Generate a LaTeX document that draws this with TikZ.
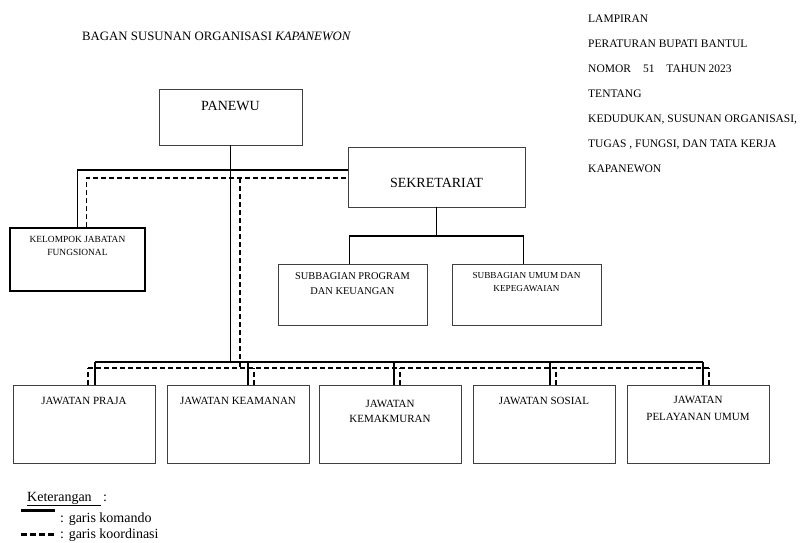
\documentclass[tikz,border=0pt]{standalone}
\usepackage{fontspec}
\setmainfont{Liberation Serif}
\usetikzlibrary{positioning}

\newcommand{\ukuran}[2]{\fontsize{#1}{#2}\selectfont}

\begin{document}
\begin{tikzpicture}[x=1pt, y=-1pt,
    box/.style={draw=black!75, line width=0.9pt, inner sep=0pt},
    teks/.style={inner sep=0pt, align=center},
    judul/.style={inner sep=0pt, anchor=base west, font=\ukuran{11.5}{14}},
    komando/.style={line width=1.8pt},
    koordinasi/.style={line width=1.6pt, dash pattern=on 5pt off 3pt}]
\useasboundingbox (0,0) rectangle (801,542);

\node[judul, font=\ukuran{12.8}{15}] (judul) at (82,40) {BAGAN SUSUNAN ORGANISASI \textit{KAPANEWON}};
\foreach \t [count=\i] in {LAMPIRAN, PERATURAN BUPATI BANTUL, NOMOR\hspace{12pt}51\hspace{12pt}TAHUN 2023, TENTANG,
    {KEDUDUKAN, SUSUNAN ORGANISASI,}, {TUGAS , FUNGSI, DAN TATA KERJA}, KAPANEWON}
    \node[judul] (lampiran\i) at (588, {22+25*(\i-1)}) {\t};

\node[box, minimum width=143, minimum height=56] (panewu) at (230.5,117) {};
\node[box, minimum width=177, minimum height=60] (sekretariat) at (436.5,177) {};
\node[box, draw=black, line width=1.8pt, minimum width=135, minimum height=63] (kjf) at (77.5,259.5) {};
\node[box, minimum width=149, minimum height=61] (spk) at (352.5,294.5) {};
\node[box, minimum width=149, minimum height=61] (suk) at (526.5,294.5) {};
\foreach \n/\x in {jp/84, jk/238, jkm/390, js/544, jpu/698}
    \node[box, minimum width=142, minimum height=78] (\n) at (\x,424) {};

\node[teks, font=\ukuran{14}{16}, below=13pt of panewu.north] (tpanewu) {PANEWU};
\node[teks, font=\ukuran{14}{16}, below=31pt of sekretariat.north] (tsekretariat) {SEKRETARIAT};
\node[teks, font=\ukuran{9.4}{13}, below=9pt of kjf.north] (tkjf) {KELOMPOK JABATAN\\FUNGSIONAL};
\node[teks, font=\ukuran{10.4}{15}, below=9pt of spk.north] (tspk) {SUBBAGIAN PROGRAM\\DAN KEUANGAN};
\node[teks, font=\ukuran{9.2}{13}, below=9pt of suk.north] (tsuk) {SUBBAGIAN UMUM DAN\\KEPEGAWAIAN};
\node[teks, font=\ukuran{11}{16}, below=12pt of jp.north] (tjp) {JAWATAN PRAJA};
\node[teks, font=\ukuran{11}{16}, below=12pt of jk.north] (tjk) {JAWATAN KEAMANAN};
\node[teks, font=\ukuran{11}{15}, below=15pt of jkm.north] (tjkm) {JAWATAN\\KEMAKMURAN};
\node[teks, font=\ukuran{11}{16}, below=12pt of js.north] (tjs) {JAWATAN SOSIAL};
\node[teks, font=\ukuran{11}{17}, below=11pt of jpu.north] (tjpu) {JAWATAN\\PELAYANAN UMUM};

\coordinate (kom) at (0,170);
\coordinate (kor) at (0,178);
\coordinate (sub) at (0,236);
\coordinate (bus) at (0,362);
\coordinate (bus2) at (0,368);

\draw[komando] (panewu.south) -- (panewu.south |- bus);
\draw[komando] (kjf.north) |- (sekretariat.west |- kom);
\draw[koordinasi] ([xshift=9pt]kjf.north) |- (sekretariat.west |- kor);
\draw[koordinasi] ([xshift=9.5pt]panewu.south |- kor) -- ([xshift=9.5pt]panewu.south |- bus2);

\draw[komando] (sekretariat.south) -- (sekretariat.south |- sub);
\draw[komando] ([xshift=-3pt]spk.north) |- ([xshift=-3pt]suk.north |- sub) -- ([xshift=-3pt]suk.north);

\draw[komando] ([xshift=11pt]jp.north |- bus) -- ([xshift=5pt]jpu.north |- bus);
\draw[koordinasi] ([xshift=4pt]jp.north |- bus2) -- ([xshift=11pt]jpu.north |- bus2);
\foreach \n/\a/\b in {jp/11/4, jk/10/16, jkm/4/10, js/6/12, jpu/5/11} {
    \draw[komando] ([xshift=\a pt]\n.north) -- ([xshift=\a pt]\n.north |- bus);
    \draw[koordinasi] ([xshift=\b pt]\n.north) -- ([xshift=\b pt]\n.north |- bus2);
}

\node[judul, font=\ukuran{14}{16}] (keterangan) at (27,501) {\underline{Keterangan\hspace{9pt}}\,:};
\coordinate (legenda1) at (21,510);
\coordinate (legenda2) at (21,534);
\draw[line width=3pt] (legenda1) -- ++(34,0);
\draw[line width=3pt, dash pattern=on 6pt off 3pt] (legenda2) -- ++(34,0);
\node[judul, font=\ukuran{14}{16}] (komando) at (60,522) {: garis komando};
\node[judul, font=\ukuran{14}{16}] (koordinasi) at (60,538) {: garis koordinasi};
\end{tikzpicture}
\end{document}
